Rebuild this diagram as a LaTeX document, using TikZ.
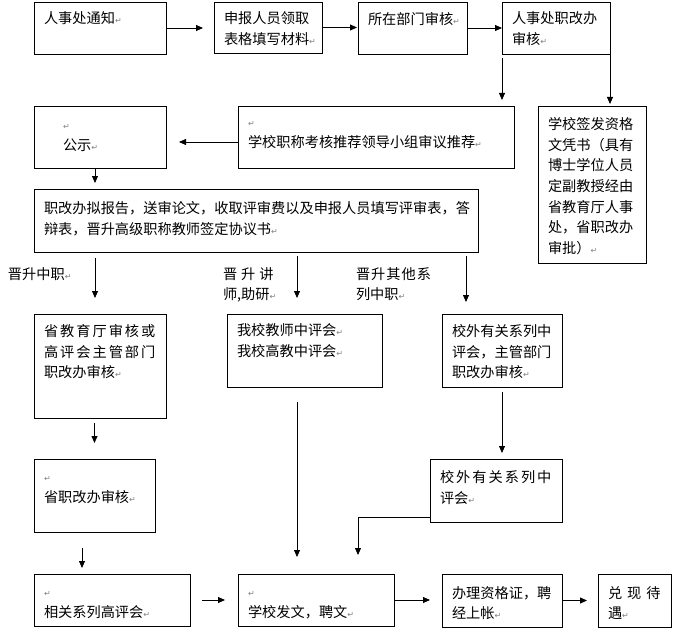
\documentclass[tikz,border=0pt]{standalone}
\usepackage{fontspec}
\usetikzlibrary{arrows.meta,calc}
\newfontfamily\cjk{Noto Sans CJK SC}
\newfontfamily\dejavu{DejaVu Sans}
\newcommand\retmark{{\dejavu\fontsize{8}{8}\selectfont\textcolor{gray}{↵}}}
\tikzset{
  boxst/.style={draw=black, line width=0.8pt, rectangle, inner sep=0pt, outer sep=0pt},
  txt/.style={anchor=north west, inner sep=0pt, outer sep=0pt, align=left,
    font=\cjk\fontsize{14.2}{20.7}\selectfont},
  arr/.style={draw=black, line width=0.8pt, -{Triangle[length=7pt,width=6pt]}},
}
\newcommand\mkbox[8]{%
  \node[boxst, minimum width={(#4-#2)*1pt}, minimum height={(#5-#3)*1pt}, anchor=north west] (#1) at (#2,#3) {};
  \node[txt] (#1t) at (#6,#7-11) {\rule{0pt}{11pt}#8};
}
\begin{document}
\begin{tikzpicture}[x=1pt,y=-1pt]
\useasboundingbox (0,0) rectangle (678,642);
\mkbox{b1}{34}{2}{166}{54}{44}{23}{人事处通知\retmark}
\mkbox{b2}{214}{2}{322}{53}{224}{23}{申报人员领取\\表格填写材料\retmark}
\mkbox{b3}{358}{2}{467}{54}{368}{23}{所在部门审核\retmark}
\mkbox{b4}{502}{2}{610}{54}{512}{23}{人事处职改办\\审核\retmark}
\mkbox{b5}{34}{106}{166}{168}{63}{129.6}{\retmark\\公示\retmark}
\mkbox{b6}{238}{106}{514}{168}{248}{126.6}{\retmark\\学校职称考核推荐领导小组审议推荐\retmark}
\mkbox{b7}{538}{106}{646}{263}{548}{128.3}{学校签发资格\\文凭书（具有\\博士学位人员\\定副教授经由\\省教育厅人事\\处，省职改办\\审批）\retmark}
\mkbox{b8}{34}{189}{478}{252}{44}{212.3}{职改办拟报告，送审论文，收取评审费以及申报人员填写评审表，答\\辩表，晋升高级职称教师签定协议书\retmark}
\mkbox{b9}{34}{314}{166}{418}{44}{335.3}{省\hspace{2pt}教\hspace{2pt}育\hspace{2pt}厅\hspace{2pt}审\hspace{2pt}核\hspace{2pt}或\\高\hspace{2pt}评\hspace{2pt}会\hspace{2pt}主\hspace{2pt}管\hspace{2pt}部\hspace{2pt}门\\职改办审核\retmark}
\mkbox{b10}{227}{314}{382}{387}{237}{334.3}{我校教师中评会\retmark\\我校高教中评会\retmark}
\mkbox{b11}{442}{314}{562}{387}{452}{335.3}{校外有关系列中\\评会，主管部门\\职改办审核\retmark}
\mkbox{b12}{34}{459}{155}{532}{44}{481.6}{\retmark\\省职改办审核\retmark}
\mkbox{b13}{34}{574}{190}{626}{44}{596.6}{\retmark\\相关系列高评会\retmark}
\mkbox{b14}{238}{574}{394}{626}{248}{596.6}{\retmark\\学校发文，聘文\retmark}
\mkbox{b15}{430}{459}{562}{522}{440}{481.3}{校\hspace{2pt}外\hspace{2pt}有\hspace{2pt}关\hspace{2pt}系\hspace{2pt}列\hspace{2pt}中\\评会\retmark}
\mkbox{b16}{442}{574}{562}{627}{452}{597.3}{办理资格证，聘\\经上帐\retmark}
\mkbox{b17}{598}{574}{671}{627}{608}{597.3}{兑\hspace{5pt}现\hspace{5pt}待\\遇\retmark}
% labels
\node[txt] (l1) at (8,267.3) {\rule{0pt}{11pt}晋升中职\retmark};
\node[txt] (l2) at (223,267.3) {\rule{0pt}{11pt}晋\hspace{4pt}升\hspace{4pt}讲\\师,助研\retmark};
\node[txt] (l3) at (356,267.3) {\rule{0pt}{11pt}晋\hspace{1pt}升\hspace{1pt}其\hspace{1pt}他\hspace{1pt}系\\列中职\retmark};
% connectors
\draw[arr, shorten >=11pt] (b1.east) -- (b1.east -| b2.west);
\draw[arr, shorten >=1pt] (b2.east) -- (b2.east -| b3.west);
\draw[arr] (b3.east) -- (b3.east -| b4.west);
\draw[arr, shorten <=4pt, shorten >=6pt] (b4.south west) -- (b4.south west |- b6.north);
\draw[arr, shorten >=2pt] (b4.south east) -- (b4.south east |- b7.north);
\draw[arr, shorten >=13pt] ([yshift=-5pt]b6.west) -- ([yshift=-5pt]b6.west -| b5.east);
\draw[arr, shorten >=6pt] ([xshift=-5pt]b5.south) -- ([xshift=-5pt]b5.south |- b8.north);
\draw[arr, shorten <=6pt, shorten >=16pt] ([xshift=-5pt]b9.north |- b8.south) -- ([xshift=-5pt]b9.north);
\draw[arr, shorten <=4pt, shorten >=16pt] ([xshift=-7.5pt]b10.north |- b8.south) -- ([xshift=-7.5pt]b10.north);
\draw[arr, shorten <=4pt, shorten >=12pt] ([xshift=-36pt]b11.north |- b8.south) -- ([xshift=-36pt]b11.north);
\draw[arr, shorten <=5pt, shorten >=16pt] (b12.north |- b9.south) -- (b12.north);
\draw[arr, shorten <=16pt, shorten >=6pt] ([xshift=-12.5pt]b12.south) -- ([xshift=-12.5pt]b12.south |- b13.north);
\draw[arr, shorten <=12pt, shorten >=13pt] (b13.east) -- (b13.east -| b14.west);
\draw[arr, shorten <=15pt, shorten >=17pt] ([xshift=-7.5pt]b10.south) -- ([xshift=-7.5pt]b10.south |- b14.north);
\draw[arr, shorten <=5pt, shorten >=6pt] (b11.south) -- (b11.south |- b15.north);
\draw[arr, shorten >=19pt] ([yshift=5pt]b15.south west) -| ([xshift=42pt]b14.north);
\draw[arr, shorten >=12pt] (b14.east) -- (b14.east -| b16.west);
\draw[arr, shorten >=11pt] (b16.east) -- (b16.east -| b17.west);
\end{tikzpicture}
\end{document}
